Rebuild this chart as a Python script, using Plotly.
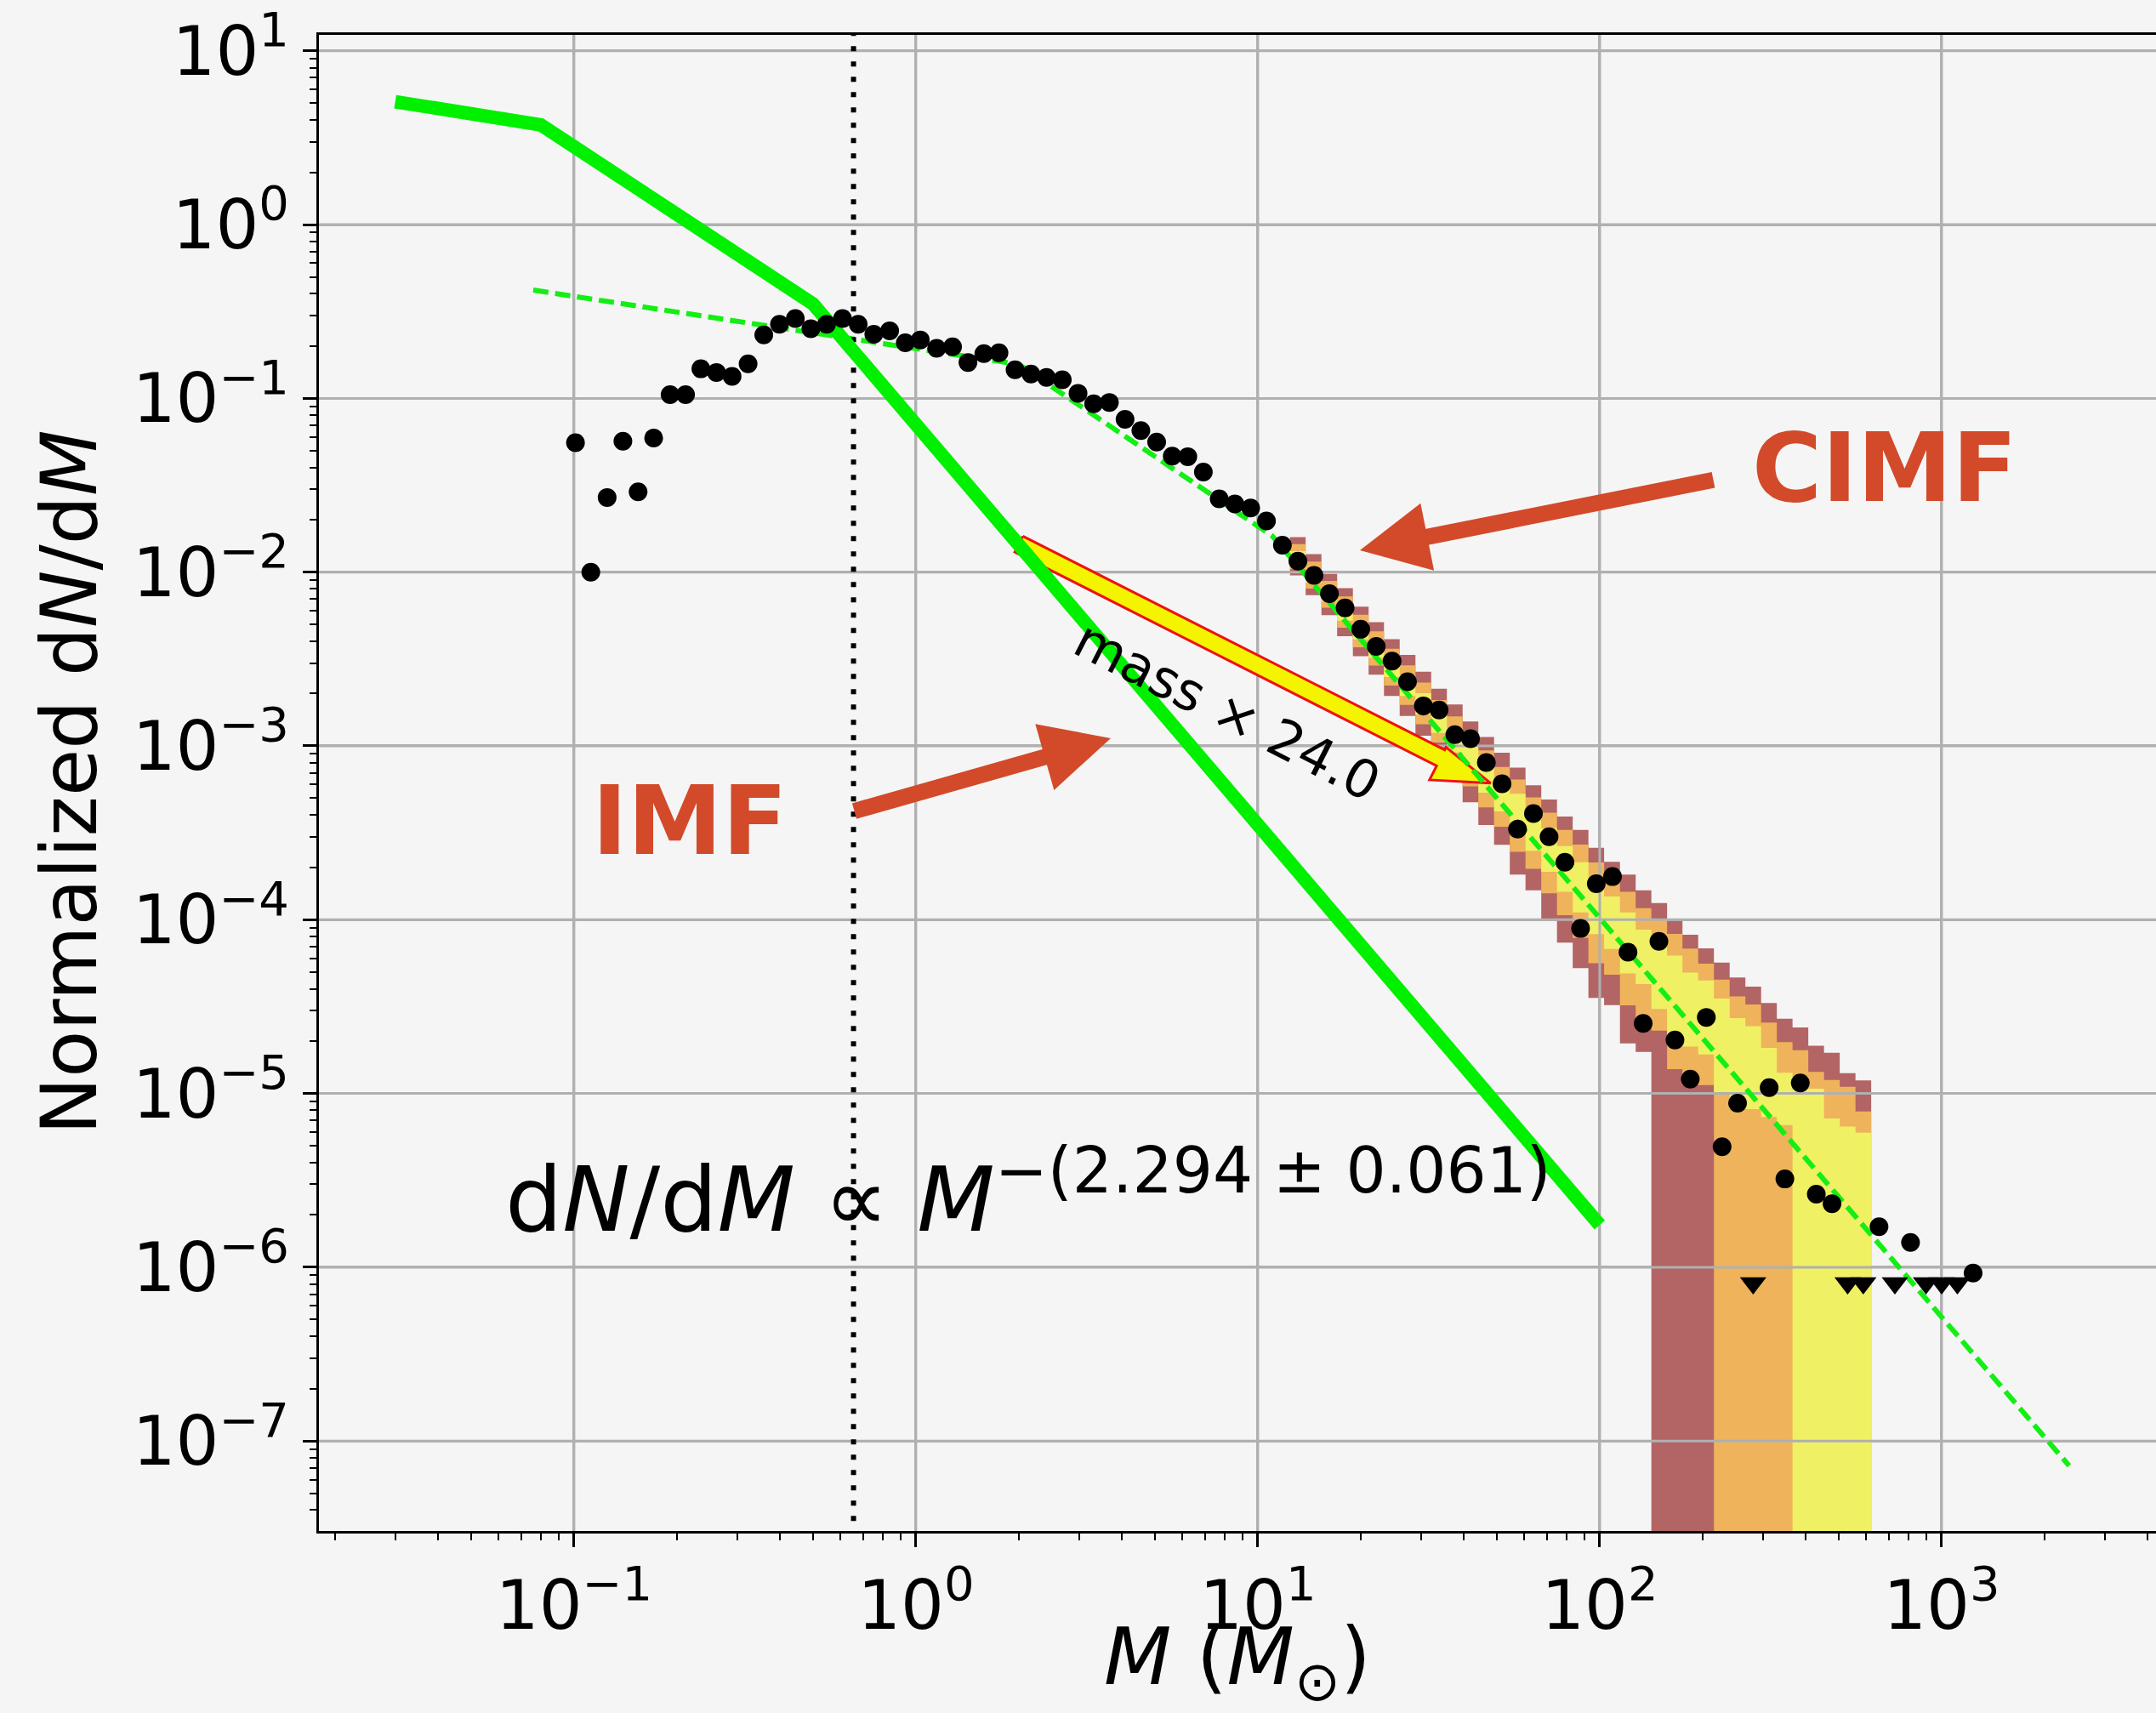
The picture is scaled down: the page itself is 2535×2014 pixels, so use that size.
import numpy as np
import plotly.graph_objects as go

# ---------------------------------------------------------------------------
# Cluster initial mass function (CIMF) vs stellar IMF
# ---------------------------------------------------------------------------

# binned CIMF, dN/dM (normalized)
clmf_mass = [0.101, 0.112, 0.125, 0.139, 0.154, 0.171, 0.191, 0.212, 0.235, 0.261,
             0.290, 0.323, 0.359, 0.399, 0.444, 0.493, 0.548, 0.610, 0.678, 0.753,
             0.838, 0.931, 1.03, 1.15, 1.28, 1.42, 1.58, 1.75, 1.95, 2.17,
             2.41, 2.68, 2.98, 3.31, 3.68, 4.09, 4.55, 5.06, 5.62, 6.24,
             6.93, 7.71, 8.57, 9.53, 10.6, 11.8, 13.1, 14.6, 16.2, 18.0,
             20.0, 22.2, 24.7, 27.4, 30.5, 33.9, 37.7, 41.9, 46.6, 51.8,
             57.5, 64.0, 71.1, 79.1, 87.9, 97.7, 109, 121, 134, 149,
             166, 184, 205, 228, 253, 313, 348, 386, 430, 478,
             656, 811, 1236]
clmf_dndm = [0.0556, 0.0100, 0.0269, 0.0567, 0.0290, 0.0591, 0.105, 0.105, 0.148, 0.141,
             0.134, 0.158, 0.232, 0.267, 0.288, 0.252, 0.267, 0.288, 0.267, 0.234,
             0.245, 0.209, 0.217, 0.194, 0.198, 0.161, 0.181, 0.183, 0.146, 0.138,
             0.132, 0.128, 0.107, 0.093, 0.0948, 0.0758, 0.0652, 0.0561, 0.0465, 0.0462,
             0.0377, 0.0264, 0.0247, 0.0234, 0.0197, 0.0143, 0.01156, 0.00958, 0.00751, 0.00623,
             0.00469, 0.00374, 0.00308, 0.00234, 0.00170, 0.00161, 0.00116, 0.00110, 8.02e-4, 6.05e-4,
             3.32e-4, 4.08e-4, 3.00e-4, 2.14e-4, 8.9e-5, 1.61e-4, 1.77e-4, 6.5e-5, 2.53e-5, 7.5e-5,
             2.03e-5, 1.21e-5, 2.74e-5, 4.93e-6, 8.8e-6, 1.08e-5, 3.22e-6, 1.15e-5, 2.63e-6, 2.32e-6,
             1.71e-6, 1.39e-6, 9.25e-7]

# empty bins (upper limits)
limit_mass = [281, 531, 590, 730, 900, 1000, 1112]
limit_dndm = [8.1e-7, 8.1e-7, 8.1e-7, 8.1e-7, 8.1e-7, 8.1e-7, 8.1e-7]

# stellar IMF (broken power law)
imf_mass = [0.03, 0.08, 0.5, 100.0]
imf_dndm = [5.1, 3.75, 0.35, 1.75e-6]

# fitted CIMF (IMF shape shifted in mass)
fit_mass = [0.076, 2.0, 11.0, 2360.0]
fit_dndm = [0.42, 0.157, 0.0162, 7.2e-8]
fit_slope = "2.294"
fit_slope_err = "0.061"

completeness_mass = 0.657

# mass shift arrow: IMF -> CIMF
shift_start_mass = 2.0
mass_factor = 24.0
shift_start_dndm = 0.0145
shift_end_dndm = 6.1e-4

# model scatter bands (per mass bin); values are log10(dN/dM), None = empty
band_edges = [12.42, 13.80, 15.35, 17.06, 18.97, 21.09, 23.39, 26.00, 28.91, 32.14,
              35.73, 39.72, 44.16, 49.09, 54.58, 60.67, 67.45, 74.99, 83.37, 92.68,
              103.0, 114.6, 127.4, 141.6, 157.4, 174.6, 194.1, 215.8, 239.9, 266.7,
              296.5, 329.6, 366.4, 407.4, 452.9, 503.5, 559.8, 622.3]
band_outer_hi = [-1.798, -1.896, -2.010, -2.092, -2.198, -2.288, -2.386, -2.476, -2.573, -2.671,
                 -2.761, -2.859, -2.949, -3.039, -3.125, -3.226, -3.308, -3.406, -3.484, -3.586,
                 -3.667, -3.740, -3.831, -3.904, -4.007, -4.087, -4.165, -4.247, -4.333, -4.385,
                 -4.480, -4.570, -4.620, -4.725, -4.766, -4.883, -4.925]
band_outer_lo = [-2.019, -2.133, -2.247, -2.369, -2.484, -2.590, -2.712, -2.827, -2.941, -3.047,
                 -3.177, -3.324, -3.455, -3.569, -3.740, -3.831, -3.994, -4.132, -4.279, -4.450,
                 -4.492, -4.712, -4.761, None, None, None, None, None, None, None,
                 None, None, None, None, None, None, None]
band_mid_hi = [-1.839, -1.939, -2.050, -2.140, -2.245, -2.340, -2.441, -2.536, -2.635, -2.736,
               -2.830, -2.931, -3.026, -3.121, -3.194, -3.296, -3.384, -3.483, -3.568, -3.671,
               -3.758, -3.839, -3.934, -4.002, -4.082, -4.166, -4.253, -4.345, -4.442, -4.488,
               -4.592, -4.705, -4.751, -4.876, -4.922, -4.962, -5.104]
band_mid_lo = [-1.983, -2.094, -2.205, -2.320, -2.432, -2.538, -2.653, -2.764, -2.875, -2.981,
               -3.101, -3.232, -3.354, -3.465, -3.610, -3.707, -3.848, -3.974, -4.105, -4.251,
               -4.317, -4.493, -4.593, -4.639, -4.860, -4.906, -4.952, None, None, None,
               None, None, None, None, None, None, None]
band_inner_hi = [-1.879, -1.982, -2.091, -2.187, -2.293, -2.393, -2.495, -2.595, -2.697, -2.800,
                 -2.900, -3.002, -3.103, -3.202, -3.276, -3.379, -3.474, -3.576, -3.669, -3.773,
                 -3.867, -3.958, -4.057, -4.116, -4.207, -4.304, -4.350, -4.454, -4.567, -4.613,
                 -4.738, -4.881, -4.927, -4.973, -5.144, -5.190, -5.226]
band_inner_lo = [-1.953, -2.061, -2.169, -2.279, -2.387, -2.493, -2.604, -2.712, -2.819, -2.925,
                 -3.038, -3.155, -3.269, -3.377, -3.501, -3.603, -3.725, -3.840, -3.958, -4.083,
                 -4.169, -4.309, -4.371, -4.514, -4.684, -4.730, -4.776, -4.998, -5.044, -5.090,
                 -5.136, -5.182, None, None, None, None, None]

x_tick_vals = [0.1, 1, 10, 100, 1000]
x_tick_text = ["10<sup>\u22121</sup>", "10<sup>0</sup>", "10<sup>1</sup>", "10<sup>2</sup>", "10<sup>3</sup>"]
y_tick_vals = [1e1, 1e0, 1e-1, 1e-2, 1e-3, 1e-4, 1e-5, 1e-6, 1e-7]
y_tick_text = ["10<sup>1</sup>", "10<sup>0</sup>", "10<sup>\u22121</sup>", "10<sup>\u22122</sup>",
               "10<sup>\u22123</sup>", "10<sup>\u22124</sup>", "10<sup>\u22125</sup>",
               "10<sup>\u22126</sup>", "10<sup>\u22127</sup>"]

# ---------------------------------------------------------------------------
# page geometry
# ---------------------------------------------------------------------------
W, H = 2535, 2014
L_M, R_M, T_M, B_M = 375, 0, 41, 214
PW, PH = W - L_M - R_M, H - T_M - B_M
XR = [-1.746, 3.627]
YR = [-7.518, 1.092]

FONT = "DejaVu Sans"
RED = "#d24a2a"
GRID = "#b0b0b0"
BROWN, ORANGE, YELLOW = "#b36464", "#efb35c", "#f0f064"


def data_to_px(m, v):
    x = L_M + (np.log10(m) - XR[0]) / (XR[1] - XR[0]) * PW
    y = T_M + (YR[1] - np.log10(v)) / (YR[1] - YR[0]) * PH
    return x, y


def px_to_data(x, y):
    m = 10 ** (XR[0] + (x - L_M) / PW * (XR[1] - XR[0]))
    v = 10 ** (YR[1] - (y - T_M) / PH * (YR[1] - YR[0]))
    return m, v


def px_to_paper(x, y):
    return (x - L_M) / PW, (T_M + PH - y) / PH


def step_band(edges, hi_log, lo_log, floor):
    xs, ys = [], []
    for i, h in enumerate(hi_log):
        xs += [edges[i], edges[i + 1]]
        ys += [10 ** h, 10 ** h]
    for i in range(len(lo_log) - 1, -1, -1):
        lo = floor if lo_log[i] is None else 10 ** lo_log[i]
        xs += [edges[i + 1], edges[i]]
        ys += [lo, lo]
    xs.append(xs[0])
    ys.append(ys[0])
    return xs, ys


fig = go.Figure()
floor = 10 ** (YR[0] - 1.0)

for hi, lo, col in [(band_outer_hi, band_outer_lo, BROWN),
                    (band_mid_hi, band_mid_lo, ORANGE),
                    (band_inner_hi, band_inner_lo, YELLOW)]:
    bx, by = step_band(band_edges, hi, lo, floor)
    fig.add_trace(go.Scatter(x=bx, y=by, mode="lines", fill="toself", fillcolor=col,
                             line=dict(width=0, color=col), hoverinfo="skip"))

# grid lines repeated over the filled bands (the grid sits above filled areas)
gx, gy = [], []
lo_y, hi_y = 10 ** (YR[0] - 1), 10 ** (YR[1] + 1)
lo_x, hi_x = 10 ** (XR[0] - 1), 10 ** (XR[1] + 1)
for v in x_tick_vals:
    gx += [v, v, None]
    gy += [lo_y, hi_y, None]
for v in y_tick_vals:
    gx += [lo_x, hi_x, None]
    gy += [v, v, None]
fig.add_trace(go.Scatter(x=gx, y=gy, mode="lines", line=dict(color=GRID, width=3),
                         hoverinfo="skip", connectgaps=False))

# mass-shift arrow (yellow with red outline), built in screen space
sx, sy = data_to_px(shift_start_mass, shift_start_dndm)
ex, ey = data_to_px(shift_start_mass * mass_factor, shift_end_dndm)
ln = np.hypot(ex - sx, ey - sy)
ux, uy = (ex - sx) / ln, (ey - sy) / ln
nx, ny = -uy, ux
hw, hl, hu, hd = 10.5, 66.0, 14.0, 29.0
poly = [
    (sx - hw * nx, sy - hw * ny),
    (ex - hl * ux - hw * nx, ey - hl * uy - hw * ny),
    (ex - hl * ux - hu * nx, ey - hl * uy - hu * ny),
    (ex, ey),
    (ex - hl * ux + hd * nx, ey - hl * uy + hd * ny),
    (ex - hl * ux + hw * nx, ey - hl * uy + hw * ny),
    (sx + hw * nx, sy + hw * ny),
    (sx - hw * nx, sy - hw * ny),
]
ax_m, ax_v = zip(*[px_to_data(px, py) for px, py in poly])
fig.add_trace(go.Scatter(x=list(ax_m), y=list(ax_v), mode="lines", fill="toself",
                         fillcolor="#f4f400", line=dict(color="#ee1111", width=3),
                         hoverinfo="skip"))

# fitted CIMF
fig.add_trace(go.Scatter(x=fit_mass, y=fit_dndm, mode="lines",
                         line=dict(color="#14ee14", width=6, dash="18px,8px"), hoverinfo="skip"))

# completeness limit
fig.add_trace(go.Scatter(x=[completeness_mass, completeness_mass],
                         y=[lo_y, hi_y], mode="lines",
                         line=dict(color="black", width=6, dash="6px,12px"), hoverinfo="skip"))

# stellar IMF
fig.add_trace(go.Scatter(x=imf_mass, y=imf_dndm, mode="lines",
                         line=dict(color="#00f000", width=16), hoverinfo="skip"))

# data
fig.add_trace(go.Scatter(x=clmf_mass, y=clmf_dndm, mode="markers",
                         marker=dict(color="black", size=22, line=dict(width=0))))
fig.add_trace(go.Scatter(x=limit_mass, y=limit_dndm, mode="markers",
                         marker=dict(color="black", size=27, symbol="triangle-down",
                                     line=dict(width=0))))

# ---------------------------------------------------------------------------
# axes
# ---------------------------------------------------------------------------
x_minor = [m * 10.0 ** e for e in range(-2, 4) for m in range(2, 10)]
y_minor = [m * 10.0 ** e for e in range(-8, 1) for m in range(2, 10)]

axis_common = dict(type="log", tickmode="array", tickfont=dict(size=80, family=FONT, color="black"),
                   ticks="outside", ticklen=16, tickwidth=3, tickcolor="black",
                   showline=True, linecolor="black", linewidth=3,
                   showgrid=True, gridcolor=GRID, gridwidth=3, zeroline=False,
                   automargin=False)
fig.update_xaxes(range=XR, tickvals=x_tick_vals, ticktext=x_tick_text, mirror=True,
                 minor=dict(tickmode="array", tickvals=x_minor, ticks="outside", ticklen=8,
                            tickwidth=2, tickcolor="black", showgrid=False),
                 **axis_common)
fig.update_yaxes(range=YR, tickvals=y_tick_vals, ticktext=y_tick_text, mirror=False,
                 minor=dict(tickmode="array", tickvals=y_minor, ticks="outside", ticklen=8,
                            tickwidth=2, tickcolor="black", showgrid=False),
                 **axis_common)

# ---------------------------------------------------------------------------
# annotations
# ---------------------------------------------------------------------------
ann = []


def text_at(px, py, text, size, **kw):
    xp, yp = px_to_paper(px, py)
    d = dict(x=xp, y=yp, xref="paper", yref="paper", text=text, showarrow=False,
             font=dict(family=FONT, size=size, color=kw.pop("color", "black")),
             xanchor=kw.pop("xanchor", "center"), yanchor=kw.pop("yanchor", "middle"))
    d.update(kw)
    ann.append(d)


def arrow(tip, tail, width=19, size=0.85):
    xp, yp = px_to_paper(*tip)
    ann.append(dict(x=xp, y=yp, xref="paper", yref="paper", text="", showarrow=True,
                    ax=tail[0] - tip[0], ay=tail[1] - tip[1], axref="pixel", ayref="pixel",
                    arrowhead=2, arrowsize=size, arrowwidth=width, arrowcolor=RED, standoff=0))


# axis titles
text_at(81, 920, "Normalized d<i>N</i>/d<i>M</i>", 90, textangle=-90)
text_at(1455, 1955, "<i>M</i> (<i>M</i><sub>\u2299</sub>)", 92)

# power-law result
text_at(592, 1474, "d<i>N</i>/d<i>M</i> \u221d <i>M</i><sup>\u2212(" + fit_slope + " \u00b1 "
        + fit_slope_err + ")</sup>", 106, xanchor="left", yanchor="bottom")

# labels with arrows
text_at(2216, 550, "<b>CIMF</b>", 112, color=RED)
arrow((1599, 647), (2016, 564))
text_at(811, 965, "<b>IMF</b>", 112, color=RED)
arrow((1306, 868), (1003, 954))

# label on the mass-shift arrow
mx, my = (sx + ex) / 2, (sy + ey) / 2
lx, ly = mx - 4 * ux + 64 * nx, my - 4 * uy + 64 * ny
angle = float(np.degrees(np.arctan2(ey - sy, ex - sx)))
text_at(lx, ly, "mass \u00d7 " + f"{mass_factor:.1f}", 62, textangle=angle)

fig.update_layout(
    width=W, height=H,
    margin=dict(l=L_M, r=R_M, t=T_M, b=B_M, pad=0),
    paper_bgcolor="#f5f5f5", plot_bgcolor="#f5f5f5",
    showlegend=False, hovermode=False,
    font=dict(family=FONT, color="black"),
    annotations=ann,
)

fig.write_html("out.html")
